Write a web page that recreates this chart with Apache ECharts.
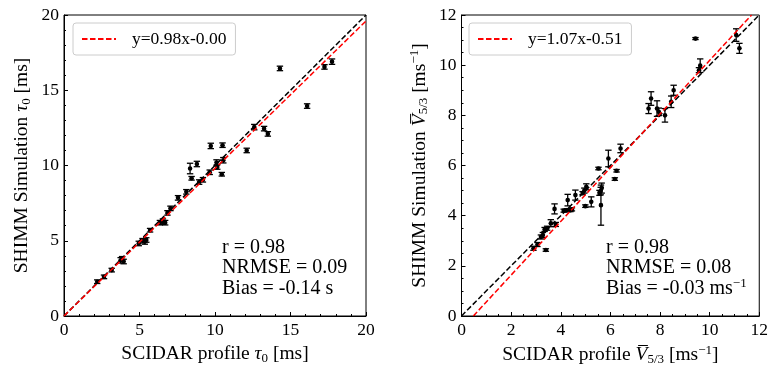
<!DOCTYPE html>
<html><head><meta charset="utf-8">
<script src="https://cdn.jsdelivr.net/npm/echarts@6/dist/echarts.min.js"></script>
<style>html,body{margin:0;padding:0;background:#fff}#c{width:771px;height:376px}</style>
</head><body><div id="c"></div>
<script>
// Left panel: tau0
const leftX = [2.2,2.65,3.16,3.75,3.85,3.95,4.95,5.2,5.35,5.45,5.7,6.35,6.55,6.7,6.85,7.05,7.55,8.1,8.35,8.8,8.45,8.95,9.2,9.65,9.72,10.1,10.15,10.45,10.5,10.55,12.1,12.6,13.25,13.5,14.3,16.1,17.25,17.75];
const leftY = [2.28,2.6,3.05,3.7,3.8,3.62,4.82,5.0,4.95,5.05,5.7,6.2,6.27,6.2,6.85,7.15,7.85,8.25,9.8,10.1,9.15,8.9,9.05,9.55,11.3,10.2,9.9,9.42,11.35,10.35,11.0,12.55,12.45,12.1,16.45,13.95,16.55,16.9];
const leftErr = [0.12,0.12,0.12,0.18,0.15,0.15,0.15,0.15,0.18,0.15,0.12,0.15,0.18,0.15,0.15,0.15,0.15,0.15,0.35,0.18,0.12,0.15,0.15,0.15,0.18,0.18,0.15,0.12,0.15,0.18,0.15,0.18,0.15,0.15,0.15,0.15,0.15,0.18];
// Right panel: V5/3
const rightX = [2.9,3.06,3.2,3.28,3.35,3.45,3.4,3.6,3.8,3.75,4.12,4.26,4.39,4.45,4.28,4.59,4.88,4.95,5.03,4.99,5.23,5.52,5.56,5.61,5.65,5.62,5.92,6.18,6.25,6.41,7.54,7.64,7.88,7.95,8.2,8.45,8.55,9.43,9.57,9.62,11.07,11.2];
const rightY = [2.7,2.85,3.15,3.23,3.45,3.5,2.63,3.7,3.65,4.27,4.2,4.22,4.22,4.25,4.62,4.82,4.9,5.0,5.15,4.38,4.55,5.88,4.91,4.98,5.1,4.42,6.28,5.46,5.79,6.68,8.27,8.67,8.27,8.14,8.0,8.54,9.0,11.06,9.8,9.98,11.2,10.67];
const rightErr = [0.08,0.08,0.08,0.1,0.08,0.08,0.05,0.14,0.08,0.2,0.06,0.06,0.06,0.06,0.23,0.2,0.06,0.1,0.12,0.05,0.2,0.05,0.1,0.15,0.2,0.8,0.33,0.05,0.05,0.17,0.2,0.27,0.31,0.15,0.27,0.23,0.2,0.04,0.1,0.27,0.25,0.2];
// reference and fit lines (endpoints)
const leftOneX = [0,20], leftOneY = [0,20];
const leftFitX = [0,20], leftFitY = [0,19.6];
const rightOneX = [0,12], rightOneY = [0,12];
const rightFitX = [0.477,11.69], rightFitY = [0,12];
const leftFitName = 'y=0.98x-0.00';
const rightFitName = 'y=1.07x-0.51';
const leftTicks = {min:0,max:20,interval:5};
const rightTicks = {min:0,max:12,interval:2};

const FONT = '"Liberation Serif", "DejaVu Serif", serif';
const zip = (a,b,c) => a.map((v,i)=> c ? [v,b[i],c[i]] : [v,b[i]]);

function errRender(params, api){
  const x=api.value(0), y=api.value(1), e=api.value(2);
  const c=api.coord([x,y]), t=api.coord([x,y+e]), b=api.coord([x,y-e]);
  const cw=3.2, st={stroke:'#000',lineWidth:1.3};
  return {type:'group',children:[
    {type:'line',shape:{x1:c[0],y1:t[1],x2:c[0],y2:b[1]},style:st},
    {type:'line',shape:{x1:c[0]-cw,y1:t[1],x2:c[0]+cw,y2:t[1]},style:st},
    {type:'line',shape:{x1:c[0]-cw,y1:b[1],x2:c[0]+cw,y2:b[1]},style:st},
    {type:'circle',shape:{cx:c[0],cy:c[1],r:2.3},style:{fill:'#000'}}
  ]};
}

const NS = 19.5;
const rich = {
  i:{fontFamily:FONT,fontStyle:'italic',fontSize:NS,color:'#000'},
  sub:{fontFamily:FONT,fontSize:13,color:'#000',padding:[9,0,0,0]},
  sup:{fontFamily:FONT,fontSize:13,color:'#000',padding:[0,0,9,0]},
  n:{fontFamily:FONT,fontSize:NS,color:'#000'}
};

function axisCommon(t, minorSplit){
  return {
    type:'value', min:t.min, max:t.max, interval:t.interval,
    axisLine:{show:true,onZero:false,lineStyle:{color:'#000',width:1}},
    axisTick:{show:true,inside:true,length:4,lineStyle:{color:'#000',width:1}},
    minorTick:{show:true,splitNumber:minorSplit,length:2,lineStyle:{color:'#000',width:1}},
    splitLine:{show:false},
    axisLabel:{color:'#000',fontFamily:FONT,fontSize:17.5,margin:5},
    nameLocation:'middle',
    nameTextStyle:{fontFamily:FONT,fontSize:NS,color:'#000',rich:rich}
  };
}

const lineStyle = (col)=>({color:col,width:1.5,type:[5.5,2.5]});
const legendBase = {orient:'vertical',itemWidth:34,itemHeight:14,padding:[7,9,7,8],
     borderColor:'#ccc',borderWidth:1,borderRadius:3,backgroundColor:'#fff',
     itemStyle:{opacity:0},
     textStyle:{fontFamily:FONT,fontSize:17.5,color:'#000',padding:[0,0,0,11]}};

const option = {
  animation:false,
  backgroundColor:'#fff',
  grid:[
    {left:64,top:15,width:302,height:301,show:true,borderColor:'#000',borderWidth:1,backgroundColor:'transparent'},
    {left:461.5,top:15,width:300.5,height:301,show:true,borderColor:'#000',borderWidth:1,backgroundColor:'transparent'}
  ],
  xAxis:[
    Object.assign(axisCommon(leftTicks,5),{gridIndex:0,name:'{n|SCIDAR profile }{i|τ}{sub|0}{n| [ms]}',nameGap:27}),
    Object.assign(axisCommon(rightTicks,4),{gridIndex:1,name:'{n|SCIDAR profile }{i|V̅}{sub|5/3}{n| [ms}{sup|−1}{n|]}',nameGap:27})
  ],
  yAxis:[
    Object.assign(axisCommon(leftTicks,5),{gridIndex:0,name:'{n|SHIMM Simulation }{i|τ}{sub|0}{n| [ms]}',nameGap:31}),
    Object.assign(axisCommon(rightTicks,4),{gridIndex:1,name:'{n|SHIMM Simulation }{i|V̅}{sub|5/3}{n| [ms}{sup|−1}{n|]}',nameGap:31})
  ],
  legend:[
    Object.assign({data:[leftFitName],left:73,top:23},legendBase),
    Object.assign({data:[rightFitName],left:469,top:23},legendBase)
  ],
  series:[
    {type:'custom',xAxisIndex:0,yAxisIndex:0,data:zip(leftX,leftY,leftErr),renderItem:errRender,z:2},
    {type:'custom',xAxisIndex:1,yAxisIndex:1,data:zip(rightX,rightY,rightErr),renderItem:errRender,z:2},
    {name:'one1',type:'line',xAxisIndex:0,yAxisIndex:0,data:zip(leftOneX,leftOneY),symbol:'none',lineStyle:lineStyle('#000'),z:3,clip:true},
    {name:leftFitName,type:'line',xAxisIndex:0,yAxisIndex:0,data:zip(leftFitX,leftFitY),symbol:'none',lineStyle:lineStyle('#ff0000'),itemStyle:{color:'#ff0000'},z:3,clip:true},
    {name:'one2',type:'line',xAxisIndex:1,yAxisIndex:1,data:zip(rightOneX,rightOneY),symbol:'none',lineStyle:lineStyle('#000'),z:3,clip:true},
    {name:rightFitName,type:'line',xAxisIndex:1,yAxisIndex:1,data:zip(rightFitX,rightFitY),symbol:'none',lineStyle:lineStyle('#ff0000'),itemStyle:{color:'#ff0000'},z:3,clip:true}
  ],
  graphic:[
    {type:'text',left:222,top:237,style:{text:'r = 0.98\nNRMSE = 0.09\nBias = -0.14 s',fontFamily:FONT,fontSize:20,lineHeight:20.5,fill:'#000'}},
    {type:'text',left:606,top:237,style:{text:'{n|r = 0.98}\n{n|NRMSE = 0.08}\n{n|Bias = -0.03 ms}{sup|−1}',fontFamily:FONT,fontSize:20,lineHeight:20.5,fill:'#000',rich:{n:{fontFamily:FONT,fontSize:20,lineHeight:20.5,fill:'#000'},sup:{fontFamily:FONT,fontSize:13,fill:'#000',padding:[0,0,9,0]}}}}
  ]
};
const chart = echarts.init(document.getElementById('c'),null,{renderer:'canvas'});
chart.setOption(option);
</script></body></html>
